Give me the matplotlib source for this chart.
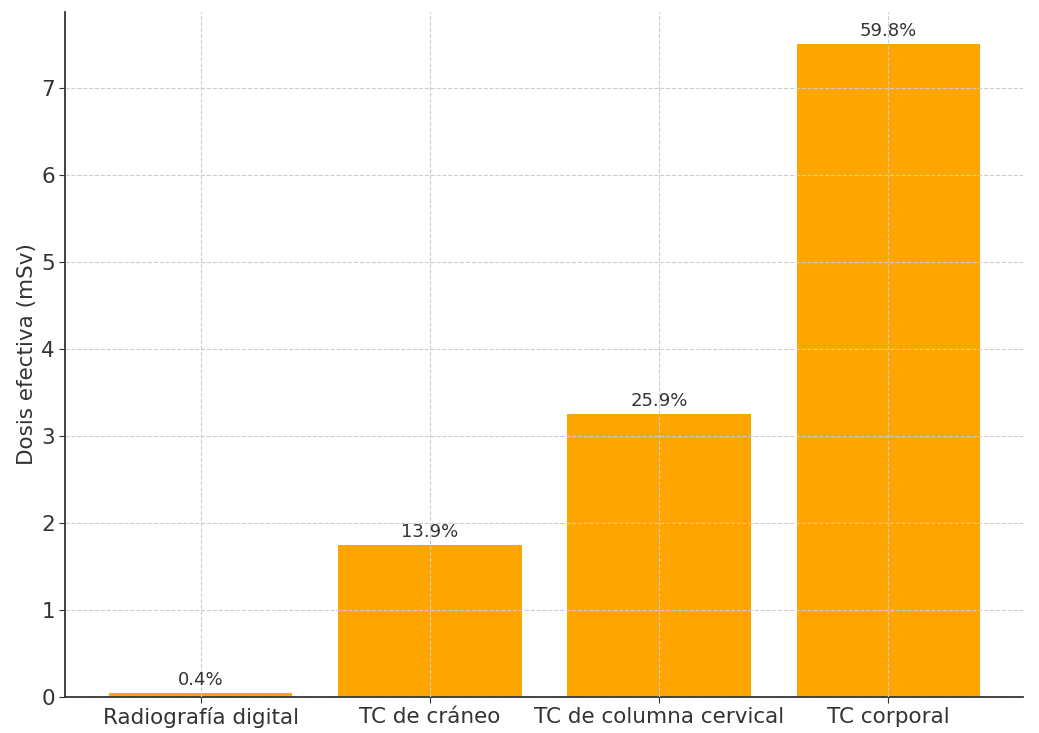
import matplotlib
matplotlib.use("Agg")
import matplotlib.pyplot as plt

categories = ["Radiografía digital", "TC de cráneo", "TC de columna cervical", "TC corporal"]
doses = [0.05, 1.75, 3.25, 7.5]
shares = [0.4, 13.9, 25.9, 59.8]

TEXT = "#333333"

fig, ax = plt.subplots(figsize=(10.39, 7.33), dpi=100)
bars = ax.bar(categories, doses, color="#FFA500", width=0.8)

for bar, share in zip(bars, shares):
    ax.annotate(f"{share}%", (bar.get_x() + bar.get_width() / 2, bar.get_height()),
                xytext=(0, 3), textcoords="offset points",
                ha="center", va="bottom", fontsize=13, color=TEXT)

ax.set_ylabel("Dosis efectiva (mSv)", fontsize=15.5, color=TEXT, labelpad=3)
ax.tick_params(axis="both", labelsize=15.5, colors=TEXT, length=4)
ax.grid(True, linestyle="--", color="#CCCCCC", linewidth=0.8)
ax.set_axisbelow(False)
for side in ("top", "right"):
    ax.spines[side].set_visible(False)
for side in ("left", "bottom"):
    ax.spines[side].set_color(TEXT)
    ax.spines[side].set_linewidth(1.3)

fig.subplots_adjust(left=0.063, right=0.985, top=0.984, bottom=0.049)
fig.savefig("out.png", dpi=100)
